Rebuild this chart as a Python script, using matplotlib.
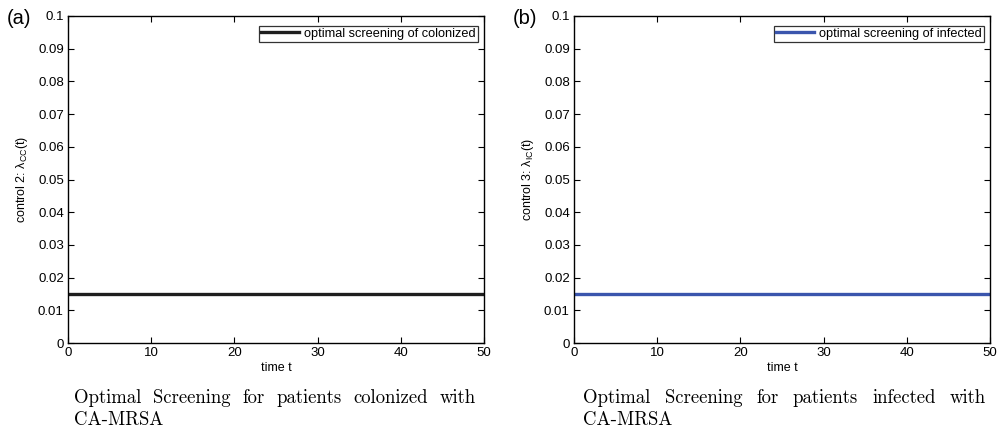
import matplotlib
matplotlib.use('Agg')
import matplotlib.pyplot as plt

time_t = [0, 10, 20, 30, 40, 50]
screen_colonized = [0.015, 0.015, 0.015, 0.015, 0.015, 0.015]
screen_infected = [0.015, 0.015, 0.015, 0.015, 0.015, 0.015]

y_ticks = [0, 0.01, 0.02, 0.03, 0.04, 0.05, 0.06, 0.07, 0.08, 0.09, 0.1]
y_ticklabels = ['0', '0.01', '0.02', '0.03', '0.04', '0.05', '0.06', '0.07', '0.08', '0.09', '0.1']
x_ticks = [0, 10, 20, 30, 40, 50]

panels = [
    ('(a)', screen_colonized, '#1e1e1e', 'optimal screening of colonized',
     r'control 2: $\lambda_{\mathrm{CC}}$(t)',
     ['Optimal', 'Screening', 'for', 'patients', 'colonized', 'with'], 'CA-MRSA'),
    ('(b)', screen_infected, '#3a55ad', 'optimal screening of infected',
     r'control 3: $\lambda_{\mathrm{IC}}$(t)',
     ['Optimal', 'Screening', 'for', 'patients', 'infected', 'with'], 'CA-MRSA'),
]

plt.rcParams['font.family'] = ['Liberation Sans', 'DejaVu Sans']
plt.rcParams['mathtext.fontset'] = 'custom'
plt.rcParams['mathtext.rm'] = 'Liberation Sans'
plt.rcParams['mathtext.it'] = 'Liberation Sans'

W, H = 1003, 433
fig = plt.figure(figsize=(W / 100, H / 100), dpi=100)

# axes boxes in pixels: left, right, top, bottom
boxes = [(68, 484, 16, 343), (574, 990, 16, 343)]
caption_x = [(74, 476), (583, 986)]

fig.canvas.draw()
renderer = fig.canvas.get_renderer()

for i, (tag, vals, col, leg, ylab, words, line2) in enumerate(panels):
    l, r, t, b = boxes[i]
    ax = fig.add_axes([l / W, 1 - b / H, (r - l) / W, (b - t) / H])
    ax.plot(time_t, vals, color=col, lw=2.4, label=leg)
    ax.set_xlim(0, 50)
    ax.set_ylim(0, 0.1)
    ax.set_xticks(x_ticks)
    ax.set_yticks(y_ticks)
    ax.set_yticklabels(y_ticklabels)
    ax.tick_params(direction='in', top=True, right=True, length=4, width=0.8,
                   labelsize=9.5, pad=3)
    for s in ax.spines.values():
        s.set_linewidth(1.0)
    ax.set_xlabel('time t', fontsize=9, labelpad=2)
    ax.set_ylabel(ylab, fontsize=9, labelpad=6)
    anchor = ((r - 6 - l) / (r - l), (b - 26) / (b - t))
    lg = ax.legend(loc='upper right', bbox_to_anchor=anchor, borderaxespad=0,
                   fontsize=9.2, frameon=True, fancybox=False,
                   borderpad=0.15, handlelength=3.0, handletextpad=0.4)
    lg.get_frame().set_edgecolor('black')
    lg.get_frame().set_linewidth(0.9)
    fig.text((l - 61) / W, 1 - 19 / H, tag, fontsize=14.5, va='center', ha='left')

    # justified caption
    x0, x1 = caption_x[i]
    texts = []
    total = 0
    for w in words:
        tx = fig.text(0, 0, w, fontsize=13.5, family='cmr10')
        wb = tx.get_window_extent(renderer)
        texts.append(tx)
        total += wb.width
    gap = (x1 - x0 - total) / (len(words) - 1)
    x = x0
    for tx in texts:
        wb = tx.get_window_extent(renderer)
        tx.set_position((x / W, 1 - 403 / H))
        x += wb.width + gap
    fig.text(x0 / W, 1 - 425 / H, line2, fontsize=13.5, family='cmr10')

fig.savefig('out.png', dpi=100)
